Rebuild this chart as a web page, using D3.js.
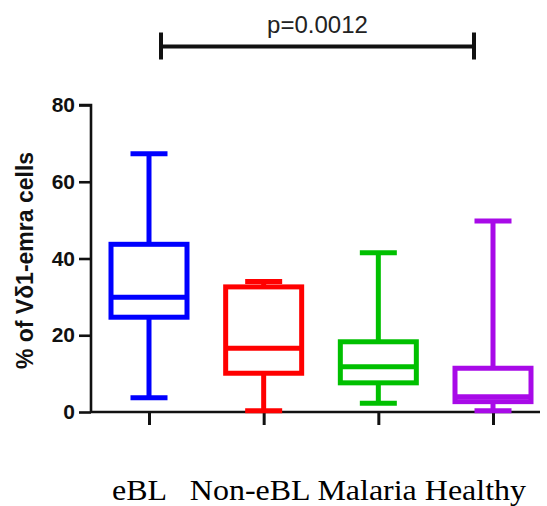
<!DOCTYPE html>
<html>
<head>
<meta charset="utf-8">
<script src="https://cdn.jsdelivr.net/npm/d3@7"></script>
<style>
  html, body { margin: 0; padding: 0; background: #fff; }
  svg { display: block; }
</style>
</head>
<body>
<svg id="chart" width="547" height="506"></svg>
<script>
// ---- data ----
const categories = ["eBL", "Non-eBL", "Malaria", "Healthy"];
const whiskerLow  = [3.7, 0.35, 2.3, 0.3];
const q1          = [24.7, 10.1, 7.6, 2.7];
const median      = [29.9, 16.6, 11.8, 4.0];
const q3          = [43.7, 32.6, 18.3, 11.4];
const whiskerHigh = [67.3, 34.0, 41.5, 49.8];
const colors      = ["#0000FF", "#FF0000", "#00C000", "#A80AE8"];
const yTicks      = [0, 20, 40, 60, 80];
const yLabel      = "% of Vδ1-emra cells";
const pLabel      = "p=0.0012";
const xLabelLine  = "eBL   Non-eBL Malaria Healthy";

// ---- layout ----
const svg = d3.select("#chart");
const axisX = 91, axisTop = 105, axisBottom = 412, axisRight = 540;
const y = d3.scaleLinear().domain([0, 80]).range([axisBottom, axisTop]);
const x = d3.scalePoint().domain(categories).range([149, 493]);
const boxW = 76, capW = 37, sw = 5;

// y axis
const yAxis = d3.axisLeft(y).tickValues(yTicks).tickSize(12).tickPadding(4).tickFormat(d3.format("d"));
const gy = svg.append("g").attr("transform", `translate(${axisX},0)`).call(yAxis);
gy.select(".domain").attr("stroke", "#111").attr("stroke-width", 2.6).attr("d", `M-12,${axisTop}H0V${axisBottom}`);
gy.selectAll(".tick line").attr("stroke", "#111").attr("stroke-width", 2.6);
gy.selectAll(".tick text").attr("fill", "#111")
  .style("font-family", "'Liberation Sans', Arial, sans-serif")
  .style("font-weight", "bold").style("font-size", "21px");

// x axis
const xAxis = d3.axisBottom(x).tickSize(13).tickFormat("");
const gx = svg.append("g").attr("transform", `translate(0,${axisBottom})`).call(xAxis);
gx.select(".domain").attr("stroke", "#111").attr("stroke-width", 2.6).attr("d", `M${axisX},0H${axisRight}`);
gx.selectAll(".tick line").attr("stroke", "#111").attr("stroke-width", 3);

// boxes
const data = categories.map((c, i) => ({
  c, lo: whiskerLow[i], q1: q1[i], med: median[i], q3: q3[i], hi: whiskerHigh[i], col: colors[i]
}));
const g = svg.append("g");
data.forEach(d => {
  const cx = x(d.c);
  const gg = g.append("g").attr("stroke", d.col).attr("stroke-width", sw).attr("fill", "none");
  gg.append("line").attr("x1", cx).attr("x2", cx).attr("y1", y(d.q3)).attr("y2", y(d.hi));
  gg.append("line").attr("x1", cx).attr("x2", cx).attr("y1", y(d.q1)).attr("y2", y(d.lo));
  gg.append("line").attr("x1", cx - capW / 2).attr("x2", cx + capW / 2).attr("y1", y(d.hi)).attr("y2", y(d.hi));
  gg.append("line").attr("x1", cx - capW / 2).attr("x2", cx + capW / 2).attr("y1", y(d.lo)).attr("y2", y(d.lo));
  gg.append("rect").attr("x", cx - boxW / 2).attr("width", boxW)
    .attr("y", y(d.q3)).attr("height", y(d.q1) - y(d.q3)).attr("fill", "#fff");
  gg.append("line").attr("x1", cx - boxW / 2).attr("x2", cx + boxW / 2).attr("y1", y(d.med)).attr("y2", y(d.med));
});

// y label
svg.append("text")
  .attr("transform", `translate(33,${(axisTop + axisBottom) / 2 + 2}) rotate(-90)`)
  .attr("text-anchor", "middle").attr("fill", "#111")
  .style("font-family", "'Liberation Sans', Arial, sans-serif")
  .style("font-weight", "bold").style("font-size", "23px")
  .text(yLabel);

// significance bracket
const sig = svg.append("g").attr("stroke", "#111").attr("stroke-width", 4);
const bx1 = 161, bx2 = 474, by = 46.5;
sig.append("line").attr("x1", bx1).attr("x2", bx2).attr("y1", by).attr("y2", by);
sig.append("line").attr("x1", bx1).attr("x2", bx1).attr("y1", by - 14).attr("y2", by + 13);
sig.append("line").attr("x1", bx2).attr("x2", bx2).attr("y1", by - 14).attr("y2", by + 13);
svg.append("text").attr("x", (bx1 + bx2) / 2).attr("y", 33).attr("text-anchor", "middle")
  .attr("fill", "#222")
  .style("font-family", "'Liberation Sans', Arial, sans-serif").style("font-size", "24px")
  .text(pLabel);

// category labels (single line, serif)
svg.append("text").attr("x", 112).attr("y", 500)
  .attr("fill", "#000")
  .attr("textLength", 414).attr("lengthAdjust", "spacingAndGlyphs")
  .style("font-family", "'Liberation Serif', 'Times New Roman', serif").style("font-size", "30px")
  .style("white-space", "pre")
  .text(xLabelLine);
</script>
</body>
</html>
